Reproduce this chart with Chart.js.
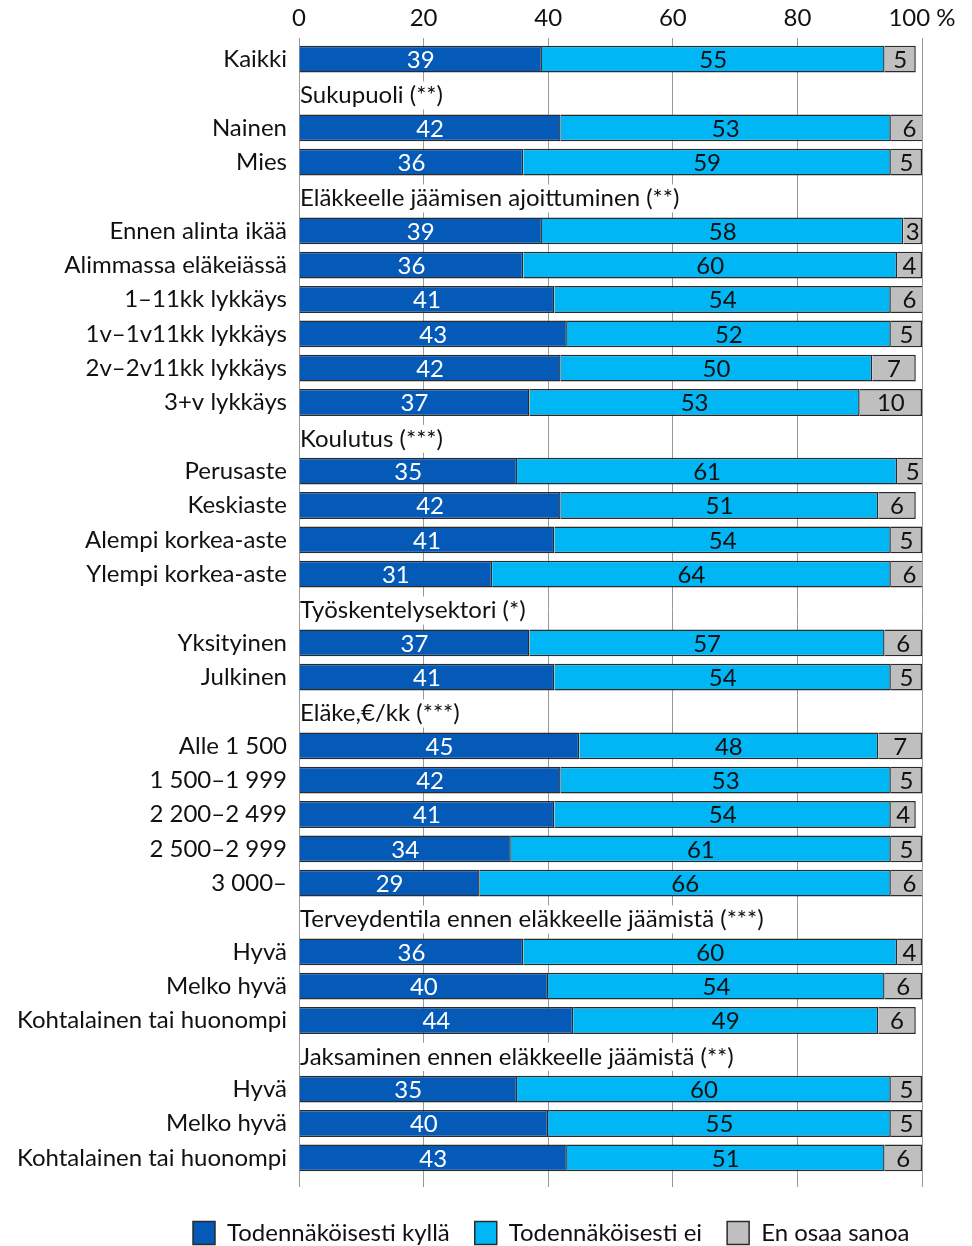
<!DOCTYPE html>
<html>
<head>
<meta charset="utf-8">
<script src="https://cdn.jsdelivr.net/npm/chart.js@4.4.0/dist/chart.umd.min.js"></script>
<style>
  html, body { margin: 0; padding: 0; background: #fff; }
  #wrap { width: 972px; height: 1246px; }
</style>
</head>
<body>
<div id="wrap"><canvas id="eläkeChart"></canvas></div>
<script>
// Rivit: tyhjä otsikko tarkoittaa ryhmän väliotsikkoa
const rivit = [
    'Kaikki', '', 'Nainen', 'Mies', '',
    'Ennen alinta ikää', 'Alimmassa eläkeiässä', '1–11kk lykkäys', '1v–1v11kk lykkäys',
    '2v–2v11kk lykkäys', '3+v lykkäys', '',
    'Perusaste', 'Keskiaste', 'Alempi korkea-aste', 'Ylempi korkea-aste', '',
    'Yksityinen', 'Julkinen', '',
    'Alle 1 500', '1 500–1 999', '2 200–2 499', '2 500–2 999', '3 000–', '',
    'Hyvä', 'Melko hyvä', 'Kohtalainen tai huonompi', '',
    'Hyvä', 'Melko hyvä', 'Kohtalainen tai huonompi'
];

// Väliotsikot ja niiden rivi-indeksit
const otsikot = {
    1: 'Sukupuoli (**)',
    4: 'Eläkkeelle jäämisen ajoittuminen (**)',
    11: 'Koulutus (***)',
    16: 'Työskentelysektori (*)',
    19: 'Eläke,€/kk (***)',
    25: 'Terveydentila ennen eläkkeelle jäämistä (***)',
    29: 'Jaksaminen ennen eläkkeelle jäämistä (**)'
};

const kylla = [39, null, 42, 36, null, 39, 36, 41, 43, 42, 37, null, 35, 42, 41, 31, null, 37, 41, null, 45, 42, 41, 34, 29, null, 36, 40, 44, null, 35, 40, 43];
const ei    = [55, null, 53, 59, null, 58, 60, 54, 52, 50, 53, null, 61, 51, 54, 64, null, 57, 54, null, 48, 53, 54, 61, 66, null, 60, 54, 49, null, 60, 55, 51];
const eos   = [5, null, 6, 5, null, 3, 4, 6, 5, 7, 10, null, 5, 6, 5, 6, null, 6, 5, null, 7, 5, 4, 5, 6, null, 4, 6, 6, null, 5, 5, 6];

const asteikko = [0, 20, 40, 60, 80, 100];

const FONTTI = 'Lato, "Open Sans", sans-serif';
const KOKO = 24;

// Arvot palkkien sisään
const arvoPlugin = {
    id: 'arvot',
    afterDatasetsDraw(chart) {
        const ctx = chart.ctx;
        ctx.save();
        ctx.font = KOKO + 'px ' + FONTTI;
        ctx.textAlign = 'center';
        ctx.textBaseline = 'middle';
        chart.data.datasets.forEach((ds, di) => {
            const meta = chart.getDatasetMeta(di);
            meta.data.forEach((bar, i) => {
                const v = ds.data[i];
                if (v === null) return;
                const p = bar.getProps(['x', 'y', 'base'], true);
                ctx.fillStyle = di === 0 ? '#ffffff' : '#111111';
                ctx.fillText(String(v), (p.x + p.base) / 2, p.y + 1);
            });
        });
        ctx.restore();
    }
};

// Väliotsikot kaavioalueen vasempaan reunaan valkoisella pohjalla
const otsikkoPlugin = {
    id: 'otsikot',
    afterDraw(chart) {
        const ctx = chart.ctx;
        const y = chart.scales.y;
        const left = chart.chartArea.left;
        ctx.save();
        ctx.font = KOKO + 'px ' + FONTTI;
        ctx.textAlign = 'left';
        ctx.textBaseline = 'middle';
        Object.keys(otsikot).forEach(i => {
            const yy = y.getPixelForValue(Number(i)) + 2;
            const w = ctx.measureText(otsikot[i]).width;
            ctx.fillStyle = '#ffffff';
            ctx.fillRect(left + 1, yy - 14, w + 4, 28);
            ctx.fillStyle = '#111111';
            ctx.fillText(otsikot[i], left + 1, yy);
        });
        ctx.restore();
    }
};

// Selite hieman oikealle kaavion alle
const seliteSiirto = {
    id: 'seliteSiirto',
    afterLayout(chart) {
        if (chart.legend) {
            chart.legend.left = 168;
            chart.legend.right = 972;
        }
    }
};

const ctx = document.getElementById('eläkeChart').getContext('2d');
new Chart(ctx, {
    type: 'bar',
    data: {
        labels: rivit,
        datasets: [
            {
                label: 'Todennäköisesti kyllä',
                data: kylla,
                backgroundColor: '#0559B7',
                borderColor: '#2b2b2b',
                borderWidth: 1.5
            },
            {
                label: 'Todennäköisesti ei',
                data: ei,
                backgroundColor: '#00B6F5',
                borderColor: '#2b2b2b',
                borderWidth: 1.5
            },
            {
                label: 'En osaa sanoa',
                data: eos,
                backgroundColor: '#BFBFBF',
                borderColor: '#2b2b2b',
                borderWidth: 1.5
            }
        ]
    },
    options: {
        indexAxis: 'y',
        responsive: true,
        maintainAspectRatio: false,
        animation: false,
        devicePixelRatio: 1,
        datasets: {
            bar: { categoryPercentage: 1, barPercentage: 0.78 }
        },
        layout: { padding: { left: 0, right: 50, top: 0, bottom: -9 } },
        scales: {
            x: {
                position: 'top',
                stacked: true,
                min: 0,
                max: 100,
                afterBuildTicks(scale) {
                    scale.ticks = asteikko.map(v => ({ value: v }));
                },
                afterFit(scale) { scale.height = 42; },
                grid: {
                    color: '#9a9a9a',
                    lineWidth: 1,
                    tickLength: 4,
                    drawTicks: true
                },
                border: { display: false },
                ticks: {
                    padding: 5,
                    color: '#111111',
                    font: { family: FONTTI, size: KOKO },
                    maxRotation: 0,
                    callback: v => (v === 100 ? '100 %' : String(v))
                }
            },
            x2: {
                position: 'bottom',
                type: 'linear',
                min: 0,
                max: 100,
                afterBuildTicks(scale) {
                    scale.ticks = asteikko.map(v => ({ value: v }));
                },
                afterFit(scale) { scale.height = 21; },
                grid: {
                    color: '#9a9a9a',
                    drawOnChartArea: false,
                    tickLength: 12
                },
                border: { display: false },
                ticks: { display: false }
            },
            y: {
                stacked: true,
                afterFit(scale) { scale.width = 299; },
                grid: { display: false, drawTicks: false },
                border: { display: false },
                ticks: {
                    padding: 12,
                    color: '#111111',
                    font: { family: FONTTI, size: KOKO },
                    autoSkip: false
                }
            }
        },
        plugins: {
            legend: {
                position: 'bottom',
                align: 'start',
                labels: {
                    boxWidth: 22,
                    boxHeight: 23,
                    padding: 25,
                    color: '#111111',
                    font: { family: FONTTI, size: KOKO }
                }
            },
            tooltip: { enabled: false }
        }
    },
    plugins: [arvoPlugin, otsikkoPlugin, seliteSiirto]
});
</script>
</body>
</html>
